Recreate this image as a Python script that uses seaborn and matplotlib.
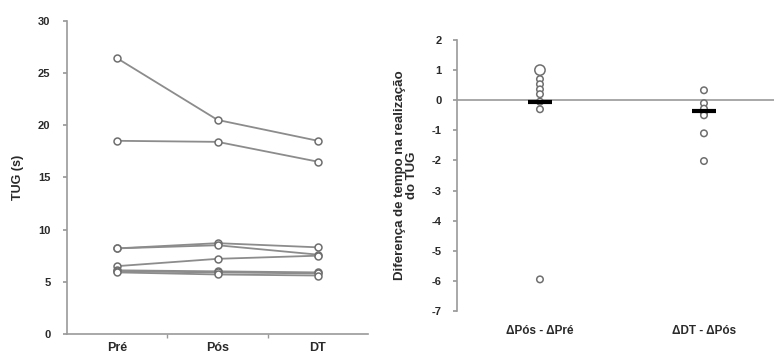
import matplotlib
matplotlib.use("Agg")
import matplotlib.pyplot as plt
import seaborn as sns
import pandas as pd
import numpy as np

# momentos de avaliação
momentos = ["Pré", "Pós", "DT"]
# TUG (s) por participante: Pré, Pós, DT
tug_pre = [26.4, 18.5, 8.2, 8.2, 6.5, 6.1, 6.0, 5.9]
tug_pos = [20.5, 18.4, 8.7, 8.5, 7.2, 6.0, 5.9, 5.7]
tug_dt = [18.5, 16.5, 8.3, 7.6, 7.5, 5.9, 5.8, 5.6]

# diferenças (painel direito)
grupos = ["\u0394Pós - \u0394Pré", "\u0394DT - \u0394Pós"]
dif_pos_pre = [1.0, 0.7, 0.53, 0.36, 0.2, -0.05, -0.3, -5.95]
dif_dt_pos = [0.33, -0.1, -0.28, -0.45, -0.5, -1.1, -2.02]
destaque = [True, False, False, False, False, False, False, False]
# barras horizontais (mediana)
medianas = [-0.07, -0.35]

sns.set_theme(style="white")
plt.rcParams["font.family"] = ["Liberation Sans", "DejaVu Sans"]
plt.rcParams["font.weight"] = "bold"
plt.rcParams["axes.unicode_minus"] = False

linha = "#8c8c8c"
eixo = "#9a9a9a"
texto = "#2a2a2a"

fig = plt.figure(figsize=(7.74, 3.59), dpi=100)
ax1 = fig.add_axes([0.0866, 0.0696, 0.389, 0.8727])
ax2 = fig.add_axes([0.5904, 0.1337, 0.4096, 0.7549])

# ---- painel esquerdo
n = len(tug_pre)
df = pd.DataFrame({
    "sujeito": np.tile(np.arange(n), 3),
    "pos": np.repeat(np.arange(len(momentos)), n),
    "tug": tug_pre + tug_pos + tug_dt,
})
sns.lineplot(data=df, x="pos", y="tug", units="sujeito", estimator=None,
             color=linha, lw=1.3, marker="o", markersize=5,
             markerfacecolor="white", markeredgecolor="#6e6e6e",
             markeredgewidth=1.1, ax=ax1, legend=False)
ax1.set_xlim(-0.5, 2.5)
ax1.set_ylim(0, 30)
ax1.set_yticks(range(0, 31, 5))
ax1.set_xticks(range(len(momentos)))
ax1.set_xticklabels(momentos, fontsize=9, color=texto, fontweight="bold")
ax1.set_xticks([0.5, 1.5], minor=True)
ax1.tick_params(axis="x", which="major", length=0, pad=6)
ax1.tick_params(axis="x", which="minor", length=3, color=eixo, direction="out", bottom=True)
ax1.tick_params(axis="y", length=3, color=eixo, direction="out", left=True, labelsize=8,
                labelcolor=texto, pad=9)
ax1.set_xlabel("")
ax1.set_ylabel("TUG (s)", fontsize=9, color=texto, fontweight="bold", labelpad=10)
for s in ["top", "right"]:
    ax1.spines[s].set_visible(False)
for s in ["left", "bottom"]:
    ax1.spines[s].set_color(eixo)
    ax1.spines[s].set_linewidth(1.2)

# ---- painel direito
dd = pd.DataFrame({
    "grupo": [grupos[0]] * len(dif_pos_pre) + [grupos[1]] * len(dif_dt_pos),
    "dif": dif_pos_pre + dif_dt_pos,
    "grande": destaque + [False] * len(dif_dt_pos),
})
dd["pos"] = dd["grupo"].map({g: i for i, g in enumerate(grupos)})
ax2.axhline(0, color=eixo, lw=1.2, zorder=0)
sns.scatterplot(data=dd, x="pos", y="dif", size="grande", sizes={False: 22, True: 55},
                facecolor="white", edgecolor="#6e6e6e", linewidth=1.1,
                ax=ax2, legend=False, zorder=3)
med = pd.DataFrame({"pos": range(len(grupos)), "dif": medianas})
sns.scatterplot(data=med, x="pos", y="dif", marker="_", s=300, color="black",
                linewidth=3, ax=ax2, legend=False, zorder=4)
ax2.set_xlim(-0.506, 1.427)
ax2.set_ylim(-7, 2)
ax2.set_yticks(range(-7, 3))
ax2.set_xticks(range(len(grupos)))
ax2.set_xticklabels(grupos, fontsize=8.5, color=texto, fontweight="bold")
ax2.tick_params(axis="x", length=0, pad=10)
ax2.tick_params(axis="y", length=3, color=eixo, direction="out", left=True, labelsize=8,
                labelcolor=texto, pad=8)
ax2.set_xlabel("")
ax2.set_ylabel("Diferença de tempo na realização\ndo TUG", fontsize=9.5, color=texto,
               fontweight="bold", labelpad=10, linespacing=1.0)
for s in ["top", "right", "bottom"]:
    ax2.spines[s].set_visible(False)
ax2.spines["left"].set_color(eixo)
ax2.spines["left"].set_linewidth(1.2)

fig.savefig("out.png", dpi=100)
